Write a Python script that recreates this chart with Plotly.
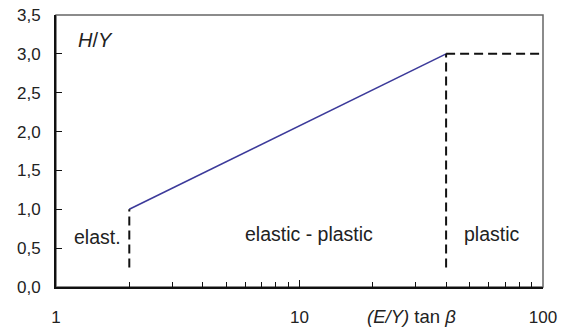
import math
import plotly.graph_objects as go

# Data
line_x = [2, 40]
line_y = [1.0, 3.0]
elastic_limit_x = [2, 2]
elastic_limit_y = [0.25, 1.0]
plastic_limit_x = [40, 40]
plastic_limit_y = [0.25, 3.0]
plateau_x = [40, 100]
plateau_y = [3.0, 3.0]
region_labels = ["elast.", "elastic - plastic", "plastic"]
region_x = [1.485, 10.9, 62]
region_y = [0.64, 0.68, 0.68]
y_ticks = [0, 0.5, 1.0, 1.5, 2.0, 2.5, 3.0, 3.5]
x_ticks = [1, 10, 100]
x_minor_ticks = [2, 3, 4, 5, 6, 7, 8, 9, 20, 30, 40, 50, 60, 70, 80, 90]

FONT = "Liberation Sans, Arial, Helvetica, sans-serif"
dash_style = "9px,5px"

fig = go.Figure()
fig.add_trace(go.Scatter(x=line_x, y=line_y, mode="lines",
                         line=dict(color="#3c3a9a", width=1.6), showlegend=False))
for xs, ys in [(elastic_limit_x, elastic_limit_y), (plastic_limit_x, plastic_limit_y), (plateau_x, plateau_y)]:
    fig.add_trace(go.Scatter(x=xs, y=ys, mode="lines",
                             line=dict(color="#111111", width=2, dash=dash_style), showlegend=False))

for t, x, y in zip(region_labels, region_x, region_y):
    fig.add_annotation(x=math.log10(x), y=y, text=t, showarrow=False,
                       font=dict(size=19.5, color="#222222", family=FONT))

fig.add_annotation(xref="paper", yref="paper", x=0.082, y=0.908, xanchor="center", yanchor="middle",
                   text="<i>H</i>/<i>Y</i>", showarrow=False,
                   font=dict(size=20, color="#222222", family=FONT))
fig.add_annotation(xref="paper", yref="paper", x=0.730, y=-0.108, xanchor="center", yanchor="middle",
                   text="<i>(E/Y)</i> tan <i>β</i>", showarrow=False,
                   font=dict(size=18.5, color="#222222", family=FONT))

fig.add_shape(type="rect", xref="paper", yref="paper", x0=0, y0=0, x1=1, y1=1,
              line=dict(color="#666666", width=1.5), layer="below")

fig.update_layout(
    width=568, height=330,
    margin=dict(l=56, r=25, t=15, b=43, autoexpand=False),
    paper_bgcolor="white", plot_bgcolor="white",
    separators=", ",
    font=dict(family=FONT, size=17, color="#222222"),
    xaxis=dict(type="log", range=[0, 2], tickmode="array", tickvals=x_ticks,
               ticktext=[str(v) for v in x_ticks],
               ticks="inside", ticklen=7, tickcolor="#111111", tickwidth=1.2,
               showline=True, linecolor="#111111", linewidth=2,
               showgrid=False, zeroline=False, automargin=False, ticklabelstandoff=14,
               minor=dict(ticks="inside", ticklen=5, tickcolor="#111111", tickwidth=1,
                          tickmode="array", tickvals=x_minor_ticks, showgrid=False),
               tickfont=dict(size=17)),
    yaxis=dict(range=[0, 3.5], tickmode="array", tickvals=y_ticks, tickformat=".1f",
               ticks="inside", ticklen=6, tickcolor="#111111", tickwidth=1.2,
               showline=True, linecolor="#111111", linewidth=2, automargin=False,
               showgrid=False, zeroline=False, tickfont=dict(size=17), ticklabelstandoff=10),
)

fig.write_html("out.html", config={"displayModeBar": False},
               post_script="document.body.style.margin='0';")
